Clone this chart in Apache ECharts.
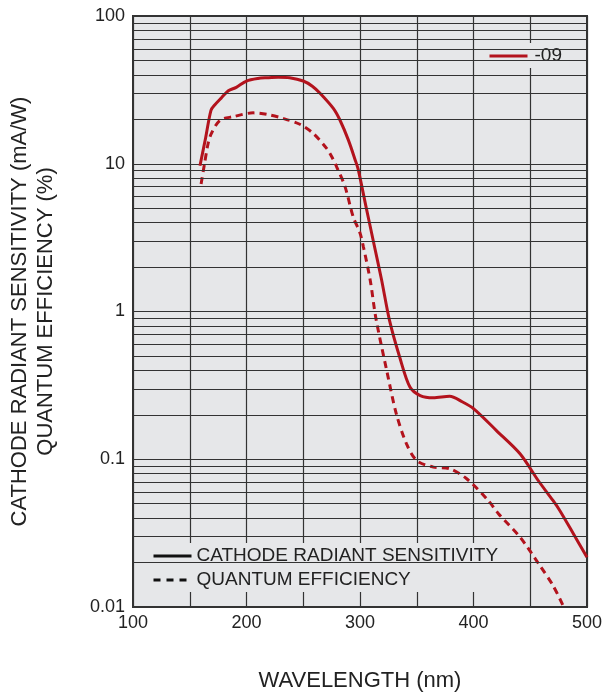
<!DOCTYPE html>
<html><head><meta charset="utf-8">
<script src="https://cdn.jsdelivr.net/npm/echarts@6/dist/echarts.min.js"></script>
<style>html,body{margin:0;padding:0;background:#fff}#c{width:604px;height:693px}</style>
</head><body><div id="c"></div>
<script>
// Tick labels
const xTickLabels = [100, 200, 300, 400, 500];
const yTickLabels = { 0.01: '0.01', 0.1: '0.1', 1: '1', 10: '10', 100: '100' };
// Minor log gridlines (2..9 of each decade)
const minorGrid = [
  0.02, 0.03, 0.04, 0.05, 0.06, 0.07, 0.08, 0.09,
  0.2, 0.3, 0.4, 0.5, 0.6, 0.7, 0.8, 0.9,
  2, 3, 4, 5, 6, 7, 8, 9,
  20, 30, 40, 50, 60, 70, 80, 90
];
// Series names
const seriesName = '-09';
const legendNames = ['CATHODE RADIANT SENSITIVITY', 'QUANTUM EFFICIENCY'];
// Cathode radiant sensitivity (mA/W) [wavelength nm, value]
const sensitivity = [
  [159, 9.7], [164, 15], [168.7, 23], [172, 25], [178, 28], [184, 31.2], [191, 32.9],
  [200, 36.3], [210, 37.8], [218, 38.2], [228, 38.5], [238, 38.2], [250, 36.3],
  [258, 33.5], [265, 29.9], [276.5, 23.7], [282.4, 19.7], [289.7, 14.5], [295.6, 10.7],
  [298.5, 9.1], [305, 5.25], [312, 2.93], [319, 1.64], [326, 0.87], [335, 0.49],
  [344, 0.308], [353, 0.27], [364.6, 0.261], [379, 0.267], [390, 0.245], [400, 0.22],
  [420, 0.157], [441, 0.109], [457, 0.0718], [470, 0.0526], [476, 0.045],
  [488, 0.0313], [500, 0.0217]
];
// Quantum efficiency (%) [wavelength nm, value]
const quantumEff = [
  [160, 7.3], [163, 10], [166, 13.5], [169, 16], [176.7, 19.7], [188, 20.8],
  [206, 22.1], [218, 21.6], [232, 20.3], [247, 18.5], [259, 16], [270.6, 12.7],
  [275, 11.2], [279.5, 9.5], [286.8, 7.0], [294, 4.37], [300, 3.4], [303, 2.74],
  [309, 1.63], [314, 0.9], [323.5, 0.40], [332, 0.203], [341, 0.127], [350, 0.098],
  [364.6, 0.0885], [379, 0.0863], [394, 0.0738], [413, 0.0526], [422, 0.0428],
  [441, 0.0297], [458.6, 0.019], [470, 0.014], [479, 0.0102]
];

const FONT = "'Liberation Sans', Arial, Helvetica, sans-serif";
const RED = '#b3131d';
const GRIDC = '#333';
const BG = '#e6e7e9';

const chart = echarts.init(document.getElementById('c'));
chart.setOption({
  animation: false,
  backgroundColor: '#fff',
  textStyle: { fontFamily: FONT },
  grid: {
    left: 133, right: 17, top: 16, bottom: 86,
    outerBoundsMode: 'none', containLabel: false,
    show: true, backgroundColor: BG, borderColor: '#333', borderWidth: 2
  },
  legend: [
    {
      data: [{ name: seriesName, lineStyle: { color: RED, width: 3, type: 'solid' } }],
      left: 483, top: 43,
      orient: 'horizontal',
      itemWidth: 38, itemHeight: 14,
      padding: [3, 8, 2, 5],
      backgroundColor: BG,
      selectedMode: false,
      itemStyle: { opacity: 0 },
      textStyle: { fontFamily: FONT, fontSize: 19, lineHeight: 20, color: '#222', padding: [0, 0, 0, 2] }
    },
    {
      data: [
        { name: legendNames[0], lineStyle: { color: '#111', width: 3, type: 'solid' } },
        { name: legendNames[1], lineStyle: { color: '#111', width: 3, type: [7, 6] } }
      ],
      left: 146, top: 543,
      orient: 'vertical',
      itemWidth: 38, itemHeight: 14, itemGap: 4,
      padding: [3, 4, 2, 6],
      backgroundColor: BG,
      selectedMode: false,
      itemStyle: { opacity: 0 },
      textStyle: { fontFamily: FONT, fontSize: 19, lineHeight: 20, color: '#222' }
    }
  ],
  xAxis: {
    type: 'value', min: 100, max: 500, interval: 50,
    name: 'WAVELENGTH (nm)', nameLocation: 'middle', nameGap: 63,
    nameTextStyle: { fontFamily: FONT, fontSize: 22, color: '#222' },
    axisLine: { show: false },
    axisTick: { show: false },
    axisLabel: {
      fontFamily: FONT, fontSize: 18, color: '#222', margin: 7,
      formatter: v => xTickLabels.includes(v) ? String(v) : ''
    },
    splitLine: { show: true, lineStyle: { color: GRIDC, width: 1.2 } }
  },
  yAxis: {
    type: 'log', logBase: 10, min: 0.01, max: 100,
    name: 'CATHODE RADIANT SENSITIVITY (mA/W)\nQUANTUM EFFICIENCY (%)',
    nameLocation: 'middle', nameGap: 74, nameRotate: 90,
    nameTextStyle: { fontFamily: FONT, fontSize: 22, lineHeight: 26, color: '#222', align: 'center' },
    axisLine: { show: false },
    axisTick: { show: false },
    axisLabel: {
      fontFamily: FONT, fontSize: 18, color: '#222', margin: 8,
      formatter: v => {
        for (const k in yTickLabels) { if (Math.abs(Math.log10(v) - Math.log10(+k)) < 1e-6) return yTickLabels[k]; }
        return '';
      }
    },
    splitLine: { show: true, lineStyle: { color: GRIDC, width: 1.2 } }
  },
  series: [
    {
      name: 'grid-minor', type: 'line', data: [], z: 1, silent: true,
      markLine: {
        silent: true, symbol: ['none', 'none'], label: { show: false },
        lineStyle: { color: GRIDC, width: 1.2, type: 'solid' },
        emphasis: { disabled: true },
        data: minorGrid.map(v => ({ yAxis: v }))
      }
    },
    {
      name: seriesName, type: 'line', data: sensitivity, z: 3,
      smooth: 0.3, symbol: 'none', color: RED,
      lineStyle: { color: RED, width: 3 }
    },
    {
      name: 'QE-09', type: 'line', data: quantumEff, z: 3,
      smooth: 0.3, symbol: 'none', color: RED,
      lineStyle: { color: RED, width: 3, type: [7, 5] }
    },
    {
      name: legendNames[0], type: 'line', data: [], symbol: 'none', color: '#111',
      lineStyle: { color: '#111', width: 3 }
    },
    {
      name: legendNames[1], type: 'line', data: [], symbol: 'none', color: '#111',
      lineStyle: { color: '#111', width: 3, type: [7, 6] }
    }
  ]
});
</script>
</body></html>
